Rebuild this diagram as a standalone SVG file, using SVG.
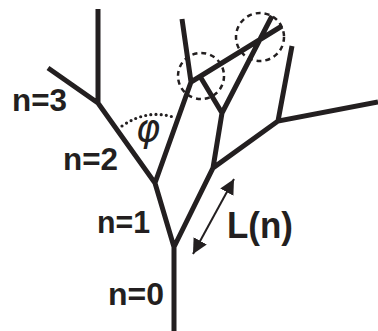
<svg xmlns="http://www.w3.org/2000/svg" width="378" height="331" viewBox="0 0 378 331">
<style>
.br{stroke:#231f20;stroke-width:5;fill:none;stroke-linecap:butt;stroke-linejoin:miter}
.lbl{font-family:"Liberation Sans",Arial,sans-serif;font-weight:bold;fill:#231f20}
.dc{fill:none;stroke:#231f20;stroke-width:2.5;stroke-dasharray:5 4}
</style>
<defs>
<marker id="ah" viewBox="0 0 10 10" refX="10" refY="5" markerWidth="15" markerHeight="15" markerUnits="userSpaceOnUse" orient="auto-start-reverse">
<path d="M0,0 L10,5 L0,10 Z" fill="#231f20"/>
</marker>
</defs>
<rect width="378" height="331" fill="#fff"/>
<g id="tree">
<path class="br" d="M174,331 L174,247 L155,183 L98,103 L48,68 M98,103 L98,9 M174,247 L213,168 L278,121 L378,102 M278,121 L292,46 M213,168 L222,113 L201,78 M222,113 L272,16 M155,183 L191,82 L182,19 M191,82 L282,26"/>
</g>
<g id="highlights">
<circle class="dc" cx="201" cy="76" r="23"/>
<circle class="dc" cx="260" cy="37" r="24"/>
</g>
<g id="angle">
<path d="M122,126 Q148,108 176,118" fill="none" stroke="#231f20" stroke-width="3.2" stroke-linecap="round" stroke-dasharray="0 5.2"/>
<text x="148" y="141" font-family="'DejaVu Sans',sans-serif" font-style="italic" font-weight="200" font-size="37" text-anchor="middle" fill="#231f20">φ</text>
</g>
<g id="connectors">
<line x1="234" y1="179" x2="193" y2="254" stroke="#231f20" stroke-width="2" marker-start="url(#ah)" marker-end="url(#ah)"/>
</g>
<g id="labels">
<text class="lbl" x="12" y="111" font-size="32" textLength="55" lengthAdjust="spacingAndGlyphs">n=3</text>
<text class="lbl" x="63" y="170" font-size="32" textLength="55" lengthAdjust="spacingAndGlyphs">n=2</text>
<text class="lbl" x="97" y="233" font-size="32" textLength="53" lengthAdjust="spacingAndGlyphs">n=1</text>
<text class="lbl" x="108" y="305" font-size="32" textLength="56" lengthAdjust="spacingAndGlyphs">n=0</text>
<text class="lbl" x="227" y="238" font-size="37" textLength="66" lengthAdjust="spacingAndGlyphs">L(n)</text>
</g>
</svg>
